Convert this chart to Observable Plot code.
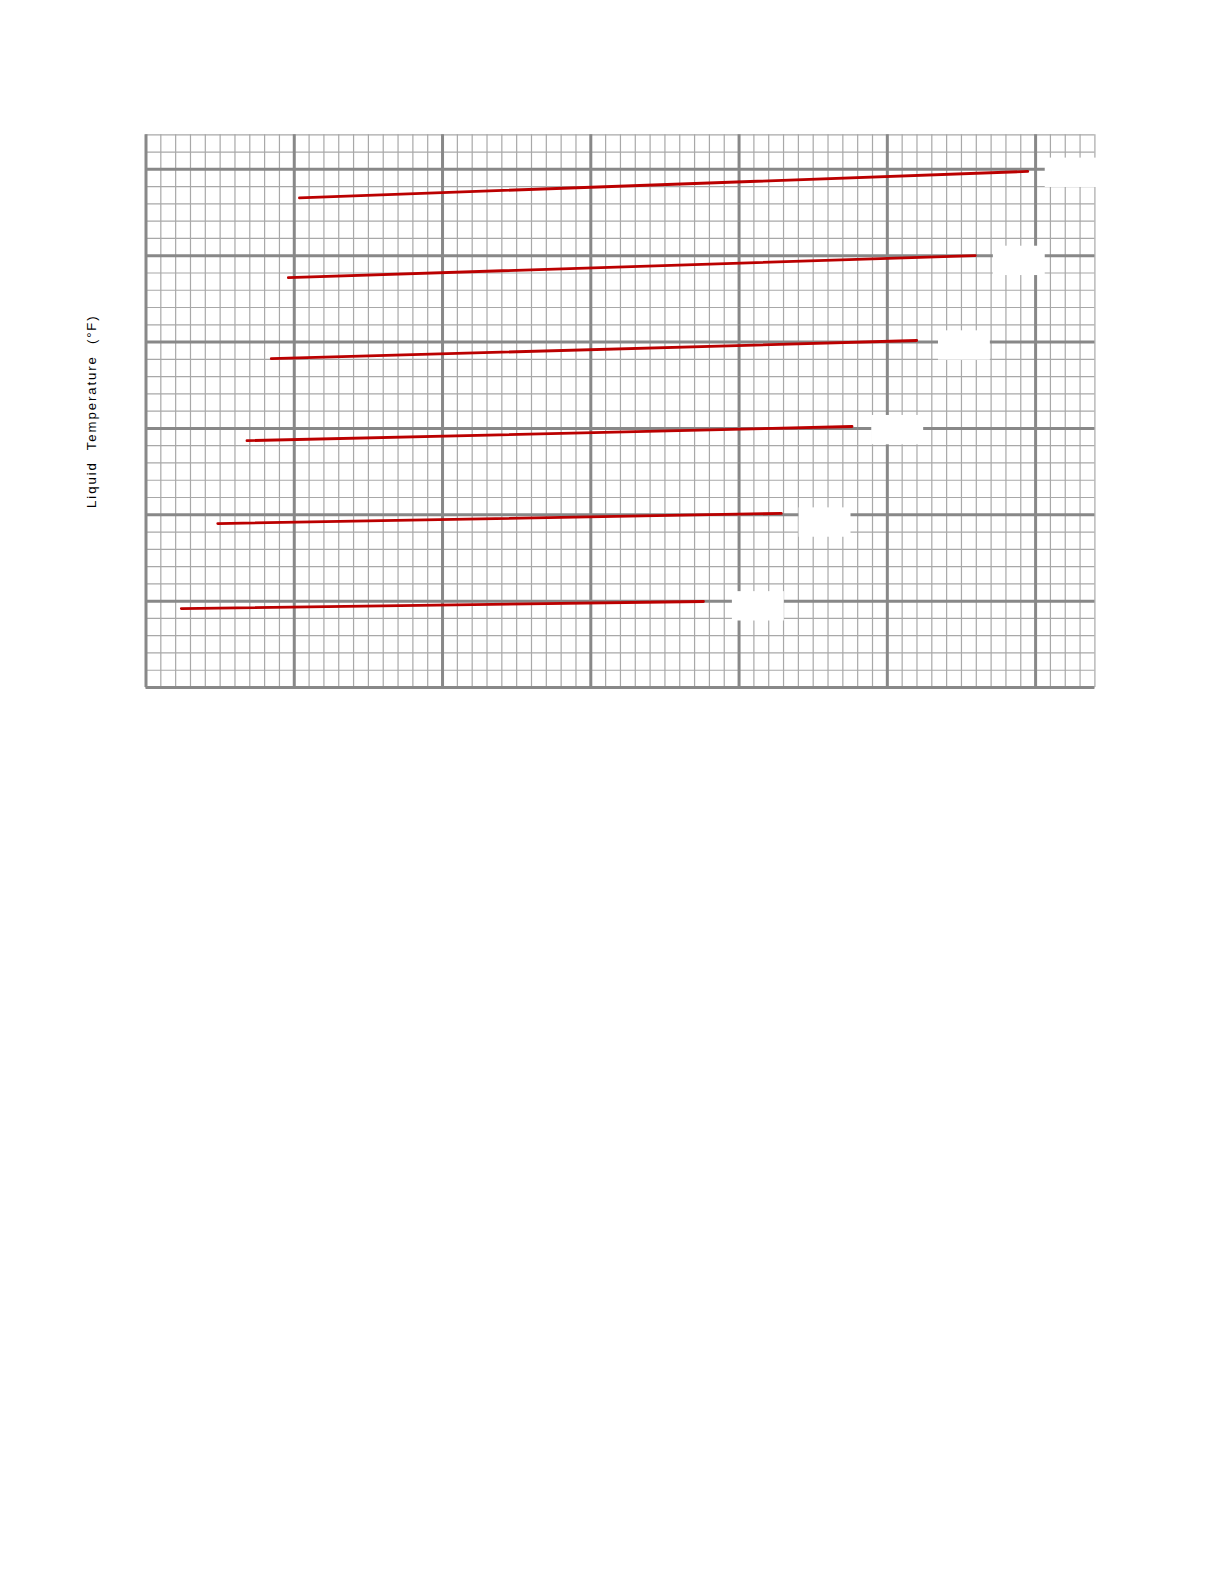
<!DOCTYPE html>
<html><head><meta charset="utf-8">
<script src="https://cdn.jsdelivr.net/npm/d3@7"></script>
<script src="https://cdn.jsdelivr.net/npm/@observablehq/plot@0.6"></script>
<style>
html,body{margin:0;background:#fff;overflow:hidden}
#chart svg{max-width:none !important}
#chart svg g[aria-label="text"] text{letter-spacing:1.9px}
</style>
</head><body><div id="chart"></div>
<script>
// grid values (abstract chart units; no tick labels shown in the reference)
const xMinor = d3.range(0, 65, 1);
const xMajor = d3.range(0, 61, 10);
const yMinor = d3.range(0, 33, 1);
const yMajor = d3.range(0, 31, 5);

// six red curves
const series = ["1", "2", "3", "4", "5", "6"];
const xStart = [10.35, 9.6, 8.45, 6.81, 4.84, 2.38];
const xEnd   = [59.47, 55.93, 51.98, 47.62, 42.85, 37.6];
const yStart = [28.35, 23.73, 19.04, 14.29, 9.49, 4.57];
const yEnd   = [29.88, 25.01, 20.09, 15.11, 10.08, 4.98];

// blanked label positions at the end of each curve
const labelX = [62.4, 58.9, 55.2, 50.7, 45.8, 41.3];
const labelY = [29.8, 24.7, 19.8, 14.9, 9.55, 4.7];

const yLabel = "Liquid\u00a0\u00a0Temperature\u00a0\u00a0(\u00b0F)";

const pts = series.flatMap((s, i) => [
  {s, x: xStart[i], y: yStart[i]},
  {s, x: xEnd[i], y: yEnd[i]}
]);
const boxes = series.map((s, i) => ({s, x: labelX[i], y: labelY[i]}));

const chart = Plot.plot({
  width: 1224,
  height: 707,
  marginLeft: 145.5,
  marginRight: 129.6,
  marginTop: 134.3,
  marginBottom: 20,
  x: {domain: [0, 64], axis: null},
  y: {domain: [0, 32], axis: null},
  style: {fontFamily: "Liberation Sans, Arial, sans-serif", background: "#fff", maxWidth: "none"},
  marks: [
    Plot.ruleX(xMinor, {x: d => d, stroke: "#a8a8a8", strokeWidth: 1.2}),
    Plot.ruleY(yMinor, {y: d => d, stroke: "#a8a8a8", strokeWidth: 1.2}),
    Plot.ruleX(xMajor, {x: d => d, stroke: "#888", strokeWidth: 3}),
    Plot.ruleY(yMajor, {y: d => d, stroke: "#888", strokeWidth: 3}),
    Plot.rect(boxes, {x1: d => d.x - 1.75, x2: d => d.x + 1.75, y1: d => d.y - 0.85, y2: d => d.y + 0.85, fill: "white"}),
    Plot.line(pts, {x: "x", y: "y", z: "s", stroke: "#bb0000", strokeWidth: 2.8, strokeLinecap: "round"}),
    Plot.text([yLabel], {frameAnchor: "left", textAnchor: "middle", rotate: -90, dx: -54.1, fontSize: 13.2, fill: "#000"})
  ]
});
document.getElementById("chart").appendChild(chart);
</script>
</body></html>
